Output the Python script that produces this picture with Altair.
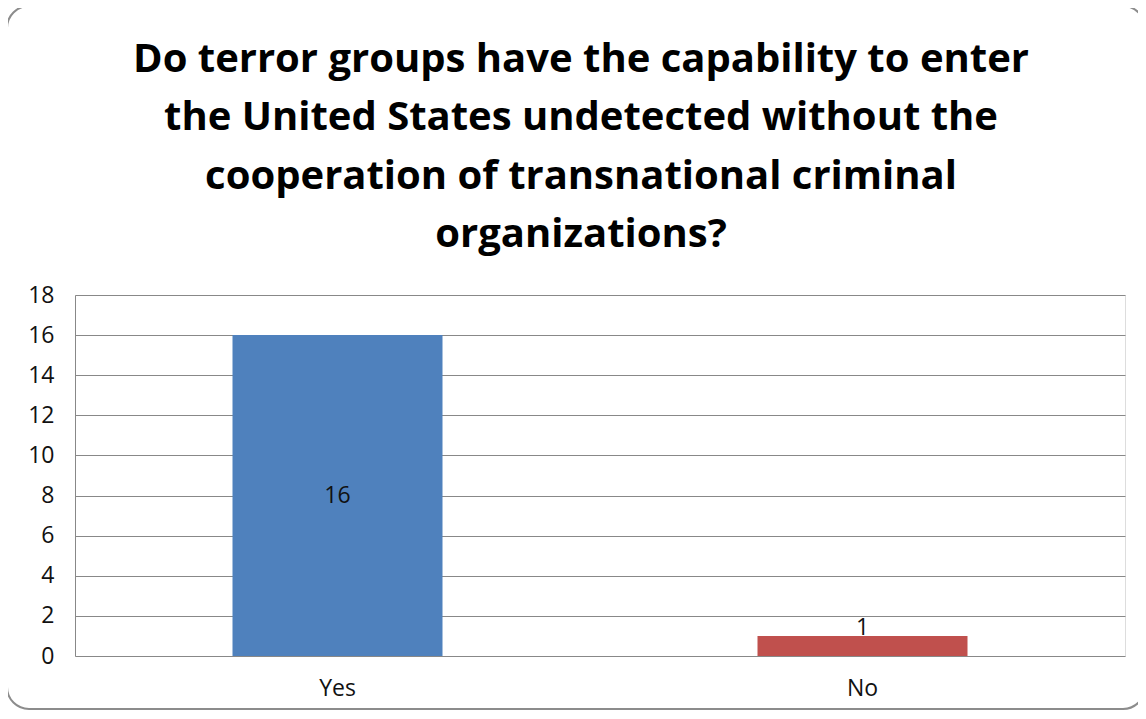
import altair as alt
import pandas as pd

categories = ["Yes", "No"]
counts = [16, 1]
bar_colors = ["#4F81BD", "#C0504D"]
title_lines = [
    "Do terror groups have the capability to enter",
    "the United States undetected without the",
    "cooperation of transnational criminal",
    "organizations?",
]

df = pd.DataFrame({"answer": categories, "count": counts, "color": bar_colors})
title_df = pd.DataFrame({"title": ["\n".join(title_lines)]})

FONT = "Open Sans"

x_enc = alt.X(
    "answer:N",
    sort=categories,
    scale=alt.Scale(paddingInner=0.6, paddingOuter=0.3),
    axis=alt.Axis(
        title=None, labelAngle=0, domain=False, ticks=False,
        labelFont=FONT, labelFontSize=23, labelColor="#111111", labelPadding=21,
    ),
)

bars = alt.Chart(df).mark_bar().encode(
    x=x_enc,
    y=alt.Y(
        "count:Q",
        scale=alt.Scale(domain=[0, 18], nice=False),
        axis=alt.Axis(
            title=None, values=list(range(0, 19, 2)), ticks=False,
            domain=True, domainColor="#888888", domainWidth=1,
            grid=True, gridColor="#888888", gridWidth=1,
            labelFont=FONT, labelFontSize=23, labelColor="#111111", labelPadding=21,
        ),
    ),
    color=alt.Color("color:N", scale=None, legend=None),
)

labels = alt.Chart(df).transform_calculate(
    pos="max(datum.count / 2, 1.4)"
).mark_text(font=FONT, fontSize=23, color="#111111", baseline="middle").encode(
    x=alt.X("answer:N", sort=categories),
    y=alt.Y("pos:Q"),
    text=alt.Text("count:Q"),
)

title = alt.Chart(title_df).mark_text(
    font=FONT, fontSize=40, fontWeight="bold", color="#000000",
    lineBreak="\n", lineHeight=58.3, align="center", baseline="alphabetic",
).encode(
    x=alt.value(506), y=alt.value(-223), text="title:N"
)

border = alt.Chart(title_df).mark_rect(
    fill=None, stroke="#8c8c8c", strokeWidth=2, cornerRadius=22
).encode(
    x=alt.value(-68), x2=alt.value(1070), y=alt.value(-289), y2=alt.value(414)
)

chart = alt.layer(bars, labels, title, border).properties(
    width=1050,
    height=361,
    padding={"left": 67, "top": 287, "right": 13, "bottom": 55},
    autosize=alt.AutoSizeParams(type="none"),
).configure_view(stroke=None).configure(background="white")

chart.save("out.html", embed_options={"renderer": "svg", "actions": False})
